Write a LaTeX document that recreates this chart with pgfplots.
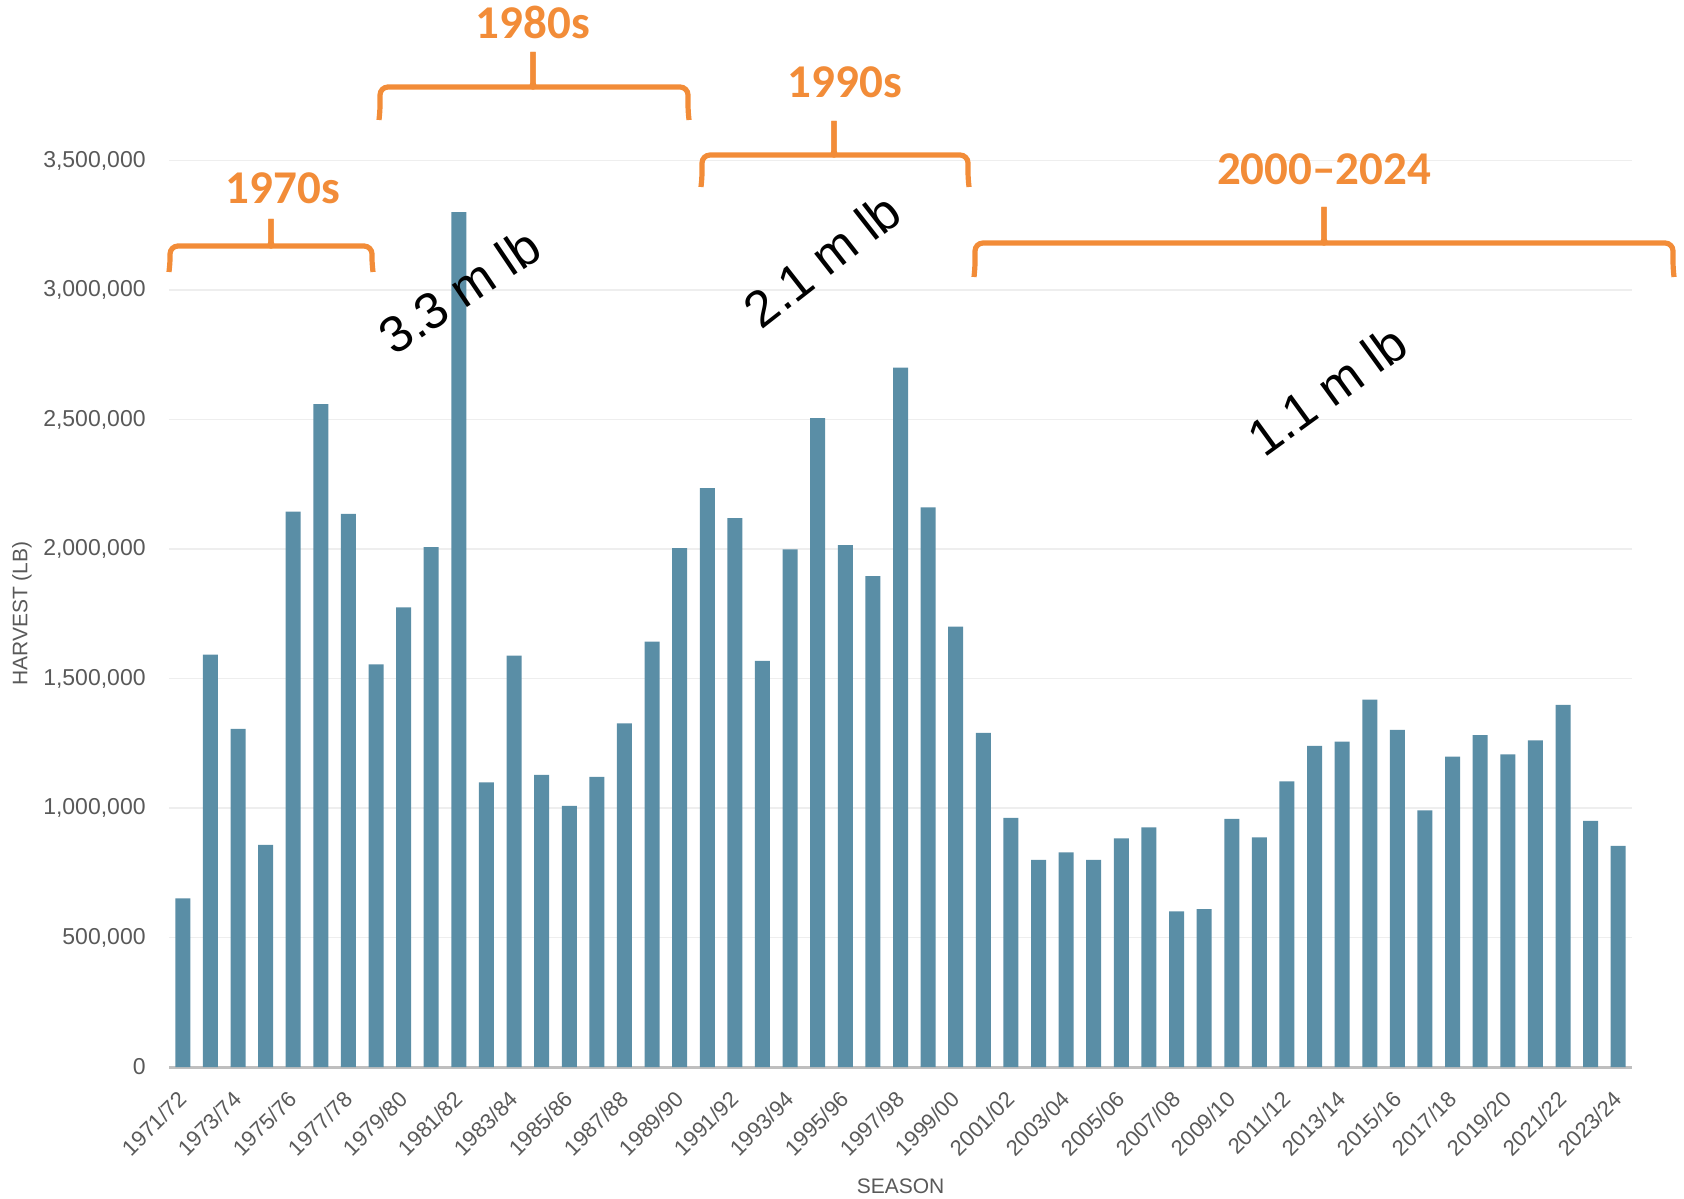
\documentclass[border=0pt]{standalone}
\usepackage{pgfplots}
\pgfplotsset{compat=1.18}
\usepackage{fontspec}
\setmainfont{Liberation Sans}
\newfontfamily\carlito{Carlito}
\definecolor{barC}{RGB}{90,142,166}
\definecolor{orangeC}{RGB}{242,140,56}
\definecolor{tickC}{RGB}{89,89,89}
\definecolor{gridC}{RGB}{238,238,238}
\definecolor{axisC}{RGB}{191,191,191}
\newcommand{\bracket}[6]{%
  \draw[orangeC, line width=2.6pt, rounded corners=4pt] (#1-1,#5) .. controls (#1,#5-10) .. (#1,#4) -- (#3-9,#4) .. controls (#3-2,#4) and (#3,#4-3) .. (#3,#4-12) -- (#3,#6);
  \draw[orangeC, line width=2.6pt, rounded corners=4pt] (#2+1,#5) .. controls (#2,#5-10) .. (#2,#4) -- (#3+9,#4) .. controls (#3+2,#4) and (#3,#4-3) .. (#3,#4-12) -- (#3,#6);
}
\begin{document}
\begin{tikzpicture}
\begin{axis}[
  at={(84.5pt,-533.5pt)}, anchor=south west,
  scale only axis, width=731.5pt, height=453.25pt,
  ybar, bar width=7.5pt,
  xmin=-0.5, xmax=52.5, ymin=0, ymax=3500000,
  axis x line*=bottom, axis y line*=left,
  y axis line style={draw=none},
  x axis line style={draw=axisC, line width=1.5pt, -},
  ymajorgrids, grid style={draw=gridC, line width=0.9pt},
  major tick length=0pt,
  ytick={0,500000,...,3500000},
  scaled y ticks=false,
  yticklabel style={font=\fontsize{11.5}{13}\selectfont, text=tickC, inner sep=0pt, xshift=-11.5pt,
    /pgf/number format/.cd, fixed, 1000 sep={,}, assume math mode=true},
  xtick={0,2,...,52},
  xticklabels={1971/72,1973/74,1975/76,1977/78,1979/80,1981/82,1983/84,1985/86,1987/88,1989/90,1991/92,1993/94,1995/96,1997/98,1999/00,2001/02,2003/04,2005/06,2007/08,2009/10,2011/12,2013/14,2015/16,2017/18,2019/20,2021/22,2023/24},
  xticklabel style={font=\fontsize{11}{13}\selectfont, text=tickC, inner sep=0pt, xshift=-3pt, rotate=45, anchor=north east},
  xticklabel shift=11pt,
  xlabel={SEASON}, ylabel={HARVEST (LB)},
  xlabel style={font=\fontsize{10.5}{12}\selectfont, text=tickC, at={(axis description cs:0.5,-0.1313)}, anchor=center, inner sep=0pt},
  ylabel style={font=\fontsize{10.5}{12}\selectfont, text=tickC, at={(axis description cs:-0.1005,0.5)}, anchor=center, inner sep=0pt},
]
\addplot[fill=barC, draw=none] coordinates {
(0,651000) (1,1592000) (2,1306000) (3,858000) (4,2144000) (5,2559000) (6,2136000) (7,1555000) (8,1775000) (9,2007000)
(10,3301000) (11,1099000) (12,1588000) (13,1128000) (14,1008000) (15,1120000) (16,1327000) (17,1642000) (18,2003000) (19,2235000)
(20,2119000) (21,1568000) (22,1999000) (23,2505000) (24,2015000) (25,1895000) (26,2700000) (27,2161000) (28,1700000) (29,1290000)
(30,962000) (31,800000) (32,829000) (33,800000) (34,883000) (35,925000) (36,601000) (37,610000) (38,958000) (39,887000)
(40,1103000) (41,1240000) (42,1256000) (43,1418000) (44,1302000) (45,991000) (46,1198000) (47,1281000) (48,1207000) (49,1261000)
(50,1398000) (51,950000) (52,854000)
};
\end{axis}
\begin{scope}[x=0.5pt, y=-0.5pt]
  \bracket{170}{372}{271}{246}{272}{219}
  \bracket{380}{688}{533}{87}{120}{52}
  \bracket{702}{968}{834}{155}{187}{121}
  \bracket{975}{1673}{1324}{243}{277}{207}
  \begin{scope}[every node/.style={text=orangeC, inner sep=0pt, anchor=center, font=\carlito\bfseries\fontsize{23.5}{26}\selectfont}]
    \node at (283,188.5) {1970s};
    \node at (533,22) {1980s};
    \node at (845,82) {1990s};
    \node at (1324,169) {2000–2024};
  \end{scope}
  \begin{scope}[every node/.style={text=black, inner sep=0pt, anchor=center, font=\fontsize{25.5}{28}\selectfont}]
    \node[rotate=34] at (459.5,291) {3.3 m lb};
    \node[rotate=38] at (822,260) {2.1 m lb};
    \node[rotate=36] at (1327,390) {1.1 m lb};
  \end{scope}
\end{scope}
\pgfresetboundingbox
\path (0,0) rectangle (842pt,-599pt);
\end{tikzpicture}
\end{document}
